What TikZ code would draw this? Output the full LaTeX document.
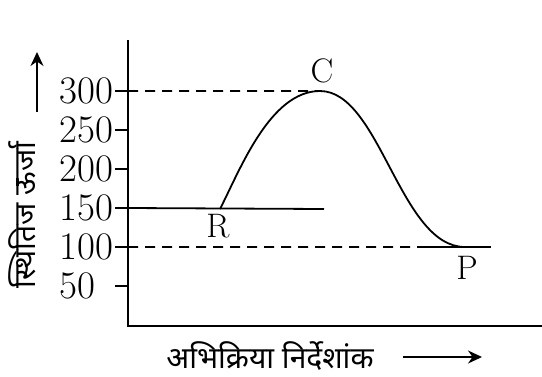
\documentclass[tikz,border=0pt]{standalone}
\usepackage{fontspec}
\newfontfamily\hindi[Script=Devanagari]{Noto Sans}
\usetikzlibrary{arrows.meta, positioning}

\begin{document}
\begin{tikzpicture}[
  x=0.5pt, y=-0.5pt,
  axis/.style={draw, line width=1.1pt},
  tickline/.style={draw, line width=0.9pt},
  level/.style={draw, line width=0.9pt},
  guide/.style={draw, line width=0.9pt, dash pattern=on 5pt off 3.5pt},
  curve/.style={draw, line width=0.9pt},
  num/.style={font=\fontsize{19.5}{22}\selectfont, inner sep=0pt, anchor=west},
  state/.style={font=\fontsize{17}{20}\selectfont, inner sep=0pt},
  title/.style={font=\hindi\fontsize{15}{18}\selectfont, inner sep=0pt},
  pointer/.style={draw, line width=0.9pt, -{Stealth[length=7pt, width=6.5pt]}}
]
\useasboundingbox (0,0) rectangle (542,376);

% axes
\coordinate (origin) at (128,326);
\coordinate (ytop) at (128,40);
\coordinate (xend) at (542,326);
\draw[axis] (ytop) -- (origin) -- (xend);

% ticks and numbers
\foreach \v in {50,100,...,300} {
  \coordinate (t\v) at (128,{325-0.78*\v});
  \draw[tickline] ([xshift=-6.5pt]t\v) -- (t\v);
  \node[num] (n\v) at (59,{325-0.78*\v}) {\v};
}

% energy levels
\coordinate (R) at (220,209);
\coordinate (C) at (320,91);
\coordinate (P) at (465,247);
\coordinate (Rend) at (324,209);
\coordinate (Pend) at (491,247);
\coordinate (Pdash) at (420,247);
\draw[level] (t150) -- (Rend);
\draw[level] (Pdash) -- (Pend);
\draw[guide] (t300) -- (C);
\draw[guide] (t100) -- (Pdash);

% profile
\draw[curve] (R) .. controls (240,170) and (270,91) .. (C)
  .. controls (380,91) and (400,247) .. (P);

\node[state] (lblC) at (322,71) {C};
\node[state] (lblR) at (218,226) {R};
\node[state] (lblP) at (467,268) {P};

% axis titles
\node[title, rotate=90] (ytitle) at (22,215) {स्थितिज ऊर्जा};
\coordinate (yarrS) at (37,112);
\coordinate (yarrE) at (37,52);
\draw[pointer] (yarrS) -- (yarrE);

\node[title] (xtitle) at (270,356) {अभिक्रिया निर्देशांक};
\coordinate (xarrS) at (403,357);
\coordinate (xarrE) at (482,357);
\draw[pointer] (xarrS) -- (xarrE);
\end{tikzpicture}
\end{document}
